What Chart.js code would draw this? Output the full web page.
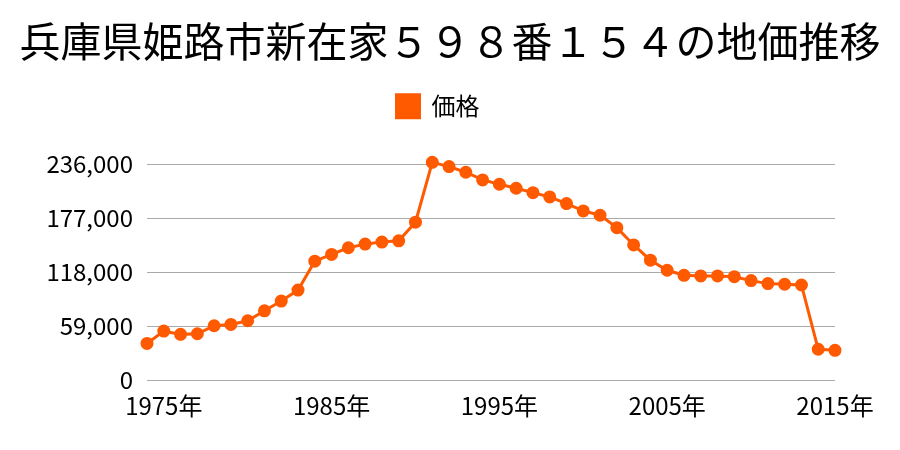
<!DOCTYPE html>
<html>
<head>
<meta charset="utf-8">
<script src="https://cdn.jsdelivr.net/npm/chart.js@4/dist/chart.umd.min.js"></script>
<style>
  html, body { margin: 0; padding: 0; background: #fff; }
  #wrap { width: 900px; height: 450px; }
</style>
</head>
<body>
<div id="wrap"><canvas id="myChart" width="900" height="450"></canvas></div>
<script>
// 地価データ (円/m²)
const titre = '兵庫県姫路市新在家５９８番１５４の地価推移';
const serieNom = '価格';
const annees = [
    1974, 1975, 1976, 1977, 1978, 1979, 1980, 1981, 1982, 1983,
    1984, 1985, 1986, 1987, 1988, 1989, 1990, 1991, 1992, 1993,
    1994, 1995, 1996, 1997, 1998, 1999, 2000, 2001, 2002, 2003,
    2004, 2005, 2006, 2007, 2008, 2009, 2010, 2011, 2012, 2013,
    2014, 2015
];
const prix = [
    40000, 53500, 49900, 50600, 59300, 60800, 64800, 75700, 86300, 98300,
    130000, 137300, 144600, 148600, 150800, 152200, 172600, 238000, 233400, 227200,
    218800, 214100, 209700, 204900, 200200, 192900, 184900, 180200, 166600, 147700,
    131000, 120000, 114500, 113800, 113800, 113000, 108700, 105400, 104700, 103900,
    33600, 32500
];
const anneesAffichees = [1975, 1985, 1995, 2005, 2015];
const yTicks = [0, 59000, 118000, 177000, 236000];

const couleur = '#ff5a00';
const police = '"Noto Sans CJK JP", "Noto Sans", sans-serif';

// petit décalage de la légende vers la gauche
const decalageLegende = {
    id: 'decalageLegende',
    afterLayout(chart) {
        chart.legend.left -= 12;
        chart.legend.right -= 12;
    }
};

const ctx = document.getElementById('myChart').getContext('2d');
new Chart(ctx, {
    type: 'line',
    data: {
        labels: annees.map(String),
        datasets: [{
            label: serieNom,
            data: prix,
            borderColor: couleur,
            backgroundColor: couleur,
            pointBackgroundColor: couleur,
            pointBorderColor: couleur,
            borderWidth: 3,
            pointRadius: 5,
            tension: 0,
            clip: false,
            fill: false,
        }],
    },
    options: {
        responsive: false,
        animation: false,
        layout: { padding: 0 },
        plugins: {
            title: {
                display: true,
                text: titre,
                color: '#000',
                font: { family: police, size: 41, weight: 'normal' },
                padding: { top: 17, bottom: 10 },
            },
            legend: {
                display: true,
                position: 'top',
                labels: {
                    color: '#000',
                    font: { family: police, size: 24 },
                    boxWidth: 23,
                    boxHeight: 23,
                    padding: 18,
                },
            },
            subtitle: {
                display: true,
                text: '',
                weight: 500,
                font: { size: 10 },
                padding: { top: 24, bottom: 0 },
            },
            tooltip: { enabled: false },
        },
        scales: {
            x: {
                grid: { display: false, drawTicks: false },
                border: { display: false },
                ticks: {
                    autoSkip: false,
                    maxRotation: 0,
                    color: '#000',
                    padding: 11,
                    font: { family: police, size: 24 },
                    callback: function (val, i) {
                        const a = annees[i];
                        return anneesAffichees.includes(a) ? a + '年' : '';
                    },
                },
                afterFit(scale) { scale.height = 70; },
            },
            y: {
                min: 0,
                max: 236000,
                afterBuildTicks(scale) {
                    scale.ticks = yTicks.map(v => ({ value: v }));
                },
                grid: { color: '#aaaaaa', lineWidth: 1, drawTicks: false },
                border: { display: false },
                ticks: {
                    color: '#000',
                    padding: 14,
                    font: { family: police, size: 24 },
                    callback: v => v.toLocaleString('en-US'),
                },
                afterFit(scale) { scale.width = 147; },
            },
            // axe vide à droite pour réserver la marge
            marge: {
                position: 'right',
                display: true,
                grid: { display: false, drawTicks: false },
                border: { display: false },
                ticks: { display: false },
                afterFit(scale) { scale.width = 65; },
            },
        },
    },
    plugins: [decalageLegende],
});
</script>
</body>
</html>
